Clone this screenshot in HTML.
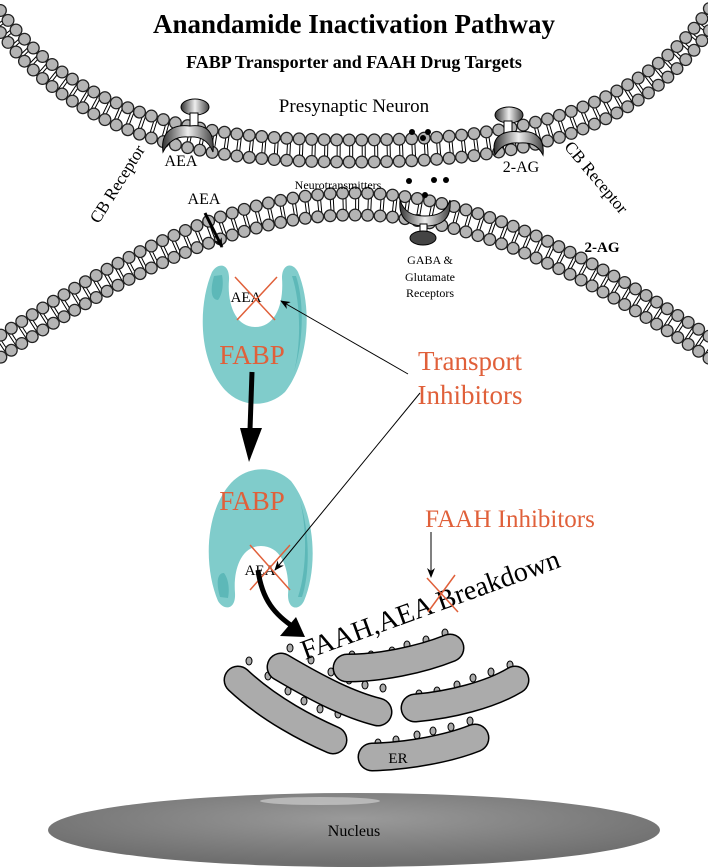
<!DOCTYPE html>
<html><head><meta charset="utf-8"><style>
html,body{margin:0;padding:0;background:#fff}
svg{display:block}
text{font-family:"Liberation Serif",serif}
</style></head><body>
<svg width="708" height="868" viewBox="0 0 708 868" xmlns="http://www.w3.org/2000/svg">
<defs>
<path id="mt" d="M-20,-10 C60,130 200,151 354,151 S650,130 728,-10" fill="none"/>
<path id="mb" d="M-20,360 C100,280 220,204 354,204 S610,280 728,360" fill="none"/>
<radialGradient id="nuc" cx="0.5" cy="0.35" r="0.6">
<stop offset="0" stop-color="#9a9a9a"/><stop offset="1" stop-color="#6f6f6f"/></radialGradient>
<linearGradient id="rec" x1="0" y1="0" x2="1" y2="0">
<stop offset="0" stop-color="#333"/><stop offset="0.5" stop-color="#eee"/><stop offset="1" stop-color="#444"/></linearGradient>
<marker id="ah" markerWidth="10" markerHeight="8" refX="9" refY="4" orient="auto" markerUnits="userSpaceOnUse">
<path d="M0,0 L10,4 L0,8 L3,4 Z" fill="#000"/></marker>
</defs>

<g>
<use href="#mt" stroke="#000" stroke-width="18" stroke-dasharray="1 2 1 8.5"/>
<use href="#mt" transform="translate(0,-11)" stroke="#222" stroke-width="13" stroke-linecap="round" stroke-dasharray="0 12.5"/>
<use href="#mt" transform="translate(0,-11)" stroke="#b4b4b4" stroke-width="10.5" stroke-linecap="round" stroke-dasharray="0 12.5"/>
<use href="#mt" transform="translate(0,11)" stroke="#222" stroke-width="13" stroke-linecap="round" stroke-dasharray="0 12.5"/>
<use href="#mt" transform="translate(0,11)" stroke="#b4b4b4" stroke-width="10.5" stroke-linecap="round" stroke-dasharray="0 12.5"/>

<use href="#mb" stroke="#000" stroke-width="18" stroke-dasharray="1 2 1 8.5"/>
<use href="#mb" transform="translate(0,-11)" stroke="#222" stroke-width="13" stroke-linecap="round" stroke-dasharray="0 12.5"/>
<use href="#mb" transform="translate(0,-11)" stroke="#b4b4b4" stroke-width="10.5" stroke-linecap="round" stroke-dasharray="0 12.5"/>
<use href="#mb" transform="translate(0,11)" stroke="#222" stroke-width="13" stroke-linecap="round" stroke-dasharray="0 12.5"/>
<use href="#mb" transform="translate(0,11)" stroke="#b4b4b4" stroke-width="10.5" stroke-linecap="round" stroke-dasharray="0 12.5"/>
</g>

<text x="354" y="33" font-size="27" font-weight="bold" text-anchor="middle">Anandamide Inactivation Pathway</text>
<text x="354" y="68" font-size="18" font-weight="bold" text-anchor="middle">FABP Transporter and FAAH Drug Targets</text>
<text x="354" y="112" font-size="19" text-anchor="middle">Presynaptic Neuron</text>

<ellipse cx="195" cy="107" rx="14" ry="8" fill="url(#rec)" stroke="#000"/>
<rect x="190" y="113" width="8" height="14" fill="#fff" stroke="#000"/>
<path d="M163,152 C160,130 175,124 190,126 C205,124 215,130 213,152 C208,140 200,136 188,137 C176,136 168,142 163,152 Z" fill="url(#rec)" stroke="#000"/>
<text x="181" y="166" font-size="16" text-anchor="middle">AEA</text>
<text x="0" y="0" font-size="17" text-anchor="middle" transform="translate(122,187) rotate(-58)">CB Receptor</text>

<ellipse cx="509" cy="115" rx="14" ry="8" fill="url(#rec)" stroke="#000"/>
<rect x="504" y="121" width="8" height="12" fill="#fff" stroke="#000"/>
<path d="M495,155 C490,135 505,130 520,132 C535,130 545,138 543,155 C538,145 530,142 519,143 C508,142 500,147 495,155 Z" fill="url(#rec)" stroke="#000"/>
<text x="521" y="172" font-size="16" text-anchor="middle">2-AG</text>
<text x="0" y="0" font-size="17" text-anchor="middle" transform="translate(592,181) rotate(50)">CB Receptor</text>

<g fill="#000">
<circle cx="412" cy="132" r="3"/><circle cx="428" cy="132" r="3"/><circle cx="423" cy="138" r="3"/>
<circle cx="409" cy="181" r="3"/><circle cx="434" cy="180" r="3"/><circle cx="446" cy="180" r="3"/><circle cx="425" cy="195" r="3"/>
</g>
<text x="338" y="189" font-size="12" text-anchor="middle">Neurotransmitters</text>
<path d="M400,200 C398,222 412,226 425,226 C438,226 452,222 450,200 C446,212 438,216 425,216 C412,216 404,212 400,200 Z" fill="url(#rec)" stroke="#000"/>
<rect x="420" y="224" width="7" height="10" fill="#fff" stroke="#000"/>
<ellipse cx="423" cy="238" rx="13" ry="7" fill="#444" stroke="#000"/>
<text x="430" y="264" font-size="12" text-anchor="middle">GABA &amp;</text>
<text x="430" y="281" font-size="12" text-anchor="middle">Glutamate</text>
<text x="430" y="297" font-size="12" text-anchor="middle">Receptors</text>
<text x="602" y="252" font-size="15" font-weight="bold" text-anchor="middle">2-AG</text>

<text x="204" y="204" font-size="16" text-anchor="middle">AEA</text>
<path d="M205,213 L222,247" stroke="#000" stroke-width="3" marker-end="url(#ah)"/>

<path d="M212,272 C198,305 198,360 225,390 C242,408 268,408 285,392 C310,360 312,305 298,272 C293,262 282,263 282,278 C284,305 275,327 255,327 C236,327 227,305 229,280 C230,263 218,262 212,272 Z" fill="#80cccb"/>
<path d="M214,276 C210,290 211,300 218,300 C222,295 224,285 222,275 Z M292,276 C300,300 302,340 294,372 C304,340 304,300 296,276 Z" fill="#5db8b8"/>
<text x="246" y="302" font-size="15" text-anchor="middle">AEA</text>
<path d="M235,277 L275,320 M277,277 L237,320" stroke="#e0603a" stroke-width="1.5"/>
<text x="252" y="364" font-size="27" fill="#e0603a" text-anchor="middle">FABP</text>

<path d="M252,372 L250,430" stroke="#000" stroke-width="5"/>
<path d="M240,428 L262,428 L249,462 Z" fill="#000"/>

<g transform="translate(6,873) scale(1,-1)">
<path d="M212,272 C198,305 198,360 225,390 C242,408 268,408 285,392 C310,360 312,305 298,272 C293,262 282,263 282,278 C284,305 275,327 255,327 C236,327 227,305 229,280 C230,263 218,262 212,272 Z" fill="#80cccb"/>
<path d="M214,276 C210,290 211,300 218,300 C222,295 224,285 222,275 Z M292,276 C300,300 302,340 294,372 C304,340 304,300 296,276 Z" fill="#5db8b8"/>
</g>
<text x="252" y="510" font-size="27" fill="#e0603a" text-anchor="middle">FABP</text>
<text x="260" y="575" font-size="15" text-anchor="middle">AEA</text>
<path d="M250,545 L290,590 M290,545 L250,590" stroke="#e0603a" stroke-width="1.5"/>

<path d="M258,570 C262,600 275,615 295,628" fill="none" stroke="#000" stroke-width="5"/>
<path d="M280,636 L305,637 L296,617 Z" fill="#000"/>

<text x="470" y="370" font-size="27" fill="#e0603a" text-anchor="middle">Transport</text>
<text x="470" y="404" font-size="27" fill="#e0603a" text-anchor="middle">Inhibitors</text>
<path d="M408,374 L281,301" stroke="#000" stroke-width="1" marker-end="url(#ah)"/>
<path d="M420,393 L275,570" stroke="#000" stroke-width="1" marker-end="url(#ah)"/>

<text x="510" y="527" font-size="25" fill="#e0603a" text-anchor="middle">FAAH Inhibitors</text>
<path d="M431,532 L431,577" stroke="#000" stroke-width="1" marker-end="url(#ah)"/>

<!-- ER bumps (drawn first so tubes overlap their bases) -->
<g fill="#ababab" stroke="#000" stroke-width="1">
<g transform="translate(6,-12)">
<ellipse cx="243" cy="673" rx="3" ry="4"/><ellipse cx="262" cy="688" rx="3" ry="4"/><ellipse cx="282" cy="703" rx="3" ry="4"/><ellipse cx="298" cy="713" rx="3" ry="4"/><ellipse cx="314" cy="721" rx="3" ry="4"/><ellipse cx="332" cy="726" rx="3" ry="4"/>
<ellipse cx="284" cy="660" rx="3" ry="4"/><ellipse cx="305" cy="672" rx="3" ry="4"/><ellipse cx="325" cy="684" rx="3" ry="4"/><ellipse cx="343" cy="692" rx="3" ry="4"/><ellipse cx="359" cy="697" rx="3" ry="4"/><ellipse cx="377" cy="700" rx="3" ry="4"/>
</g>
<g transform="translate(-2,0)">
<ellipse cx="354" cy="655" rx="3" ry="4"/><ellipse cx="373" cy="655" rx="3" ry="4"/><ellipse cx="394" cy="651" rx="3" ry="4"/><ellipse cx="409" cy="645" rx="3" ry="4"/><ellipse cx="428" cy="640" rx="3" ry="4"/><ellipse cx="447" cy="633" rx="3" ry="4"/>
<ellipse cx="421" cy="694" rx="3" ry="4"/><ellipse cx="439" cy="691" rx="3" ry="4"/><ellipse cx="459" cy="685" rx="3" ry="4"/><ellipse cx="475" cy="678" rx="3" ry="4"/><ellipse cx="493" cy="672" rx="3" ry="4"/><ellipse cx="512" cy="665" rx="3" ry="4"/>
<ellipse cx="380" cy="743" rx="3" ry="4"/><ellipse cx="398" cy="740" rx="3" ry="4"/><ellipse cx="419" cy="735" rx="3" ry="4"/><ellipse cx="435" cy="731" rx="3" ry="4"/><ellipse cx="453" cy="727" rx="3" ry="4"/><ellipse cx="472" cy="721" rx="3" ry="4"/>
</g>
</g>
<g stroke-linecap="round" fill="none">
<g stroke="#000" stroke-width="29">
<path d="M238,680 C270,710 310,730 333,740"/>
<path d="M281,667 C320,690 350,705 378,712"/>
<path d="M347,668 C380,668 420,660 450,648"/>
<path d="M415,708 C450,705 490,695 515,680"/>
<path d="M372,757 C410,756 450,748 475,738"/>
</g>
<g stroke="#ababab" stroke-width="26">
<path d="M238,680 C270,710 310,730 333,740"/>
<path d="M281,667 C320,690 350,705 378,712"/>
<path d="M347,668 C380,668 420,660 450,648"/>
<path d="M415,708 C450,705 490,695 515,680"/>
<path d="M372,757 C410,756 450,748 475,738"/>
</g>
</g>
<text x="398" y="763" font-size="15" text-anchor="middle">ER</text>

<text x="0" y="0" font-size="28" transform="translate(305,660) rotate(-20)">FAAH,AEA Breakdown</text>
<path d="M427,578 L458,612 M455,575 L428,612" stroke="#e0603a" stroke-width="1.5"/>

<ellipse cx="354" cy="830" rx="306" ry="37" fill="url(#nuc)"/>
<ellipse cx="320" cy="801" rx="60" ry="4" fill="#c4c4c4" opacity="0.8"/>
<text x="354" y="836" font-size="16" text-anchor="middle">Nucleus</text>
</svg>
</body></html>
